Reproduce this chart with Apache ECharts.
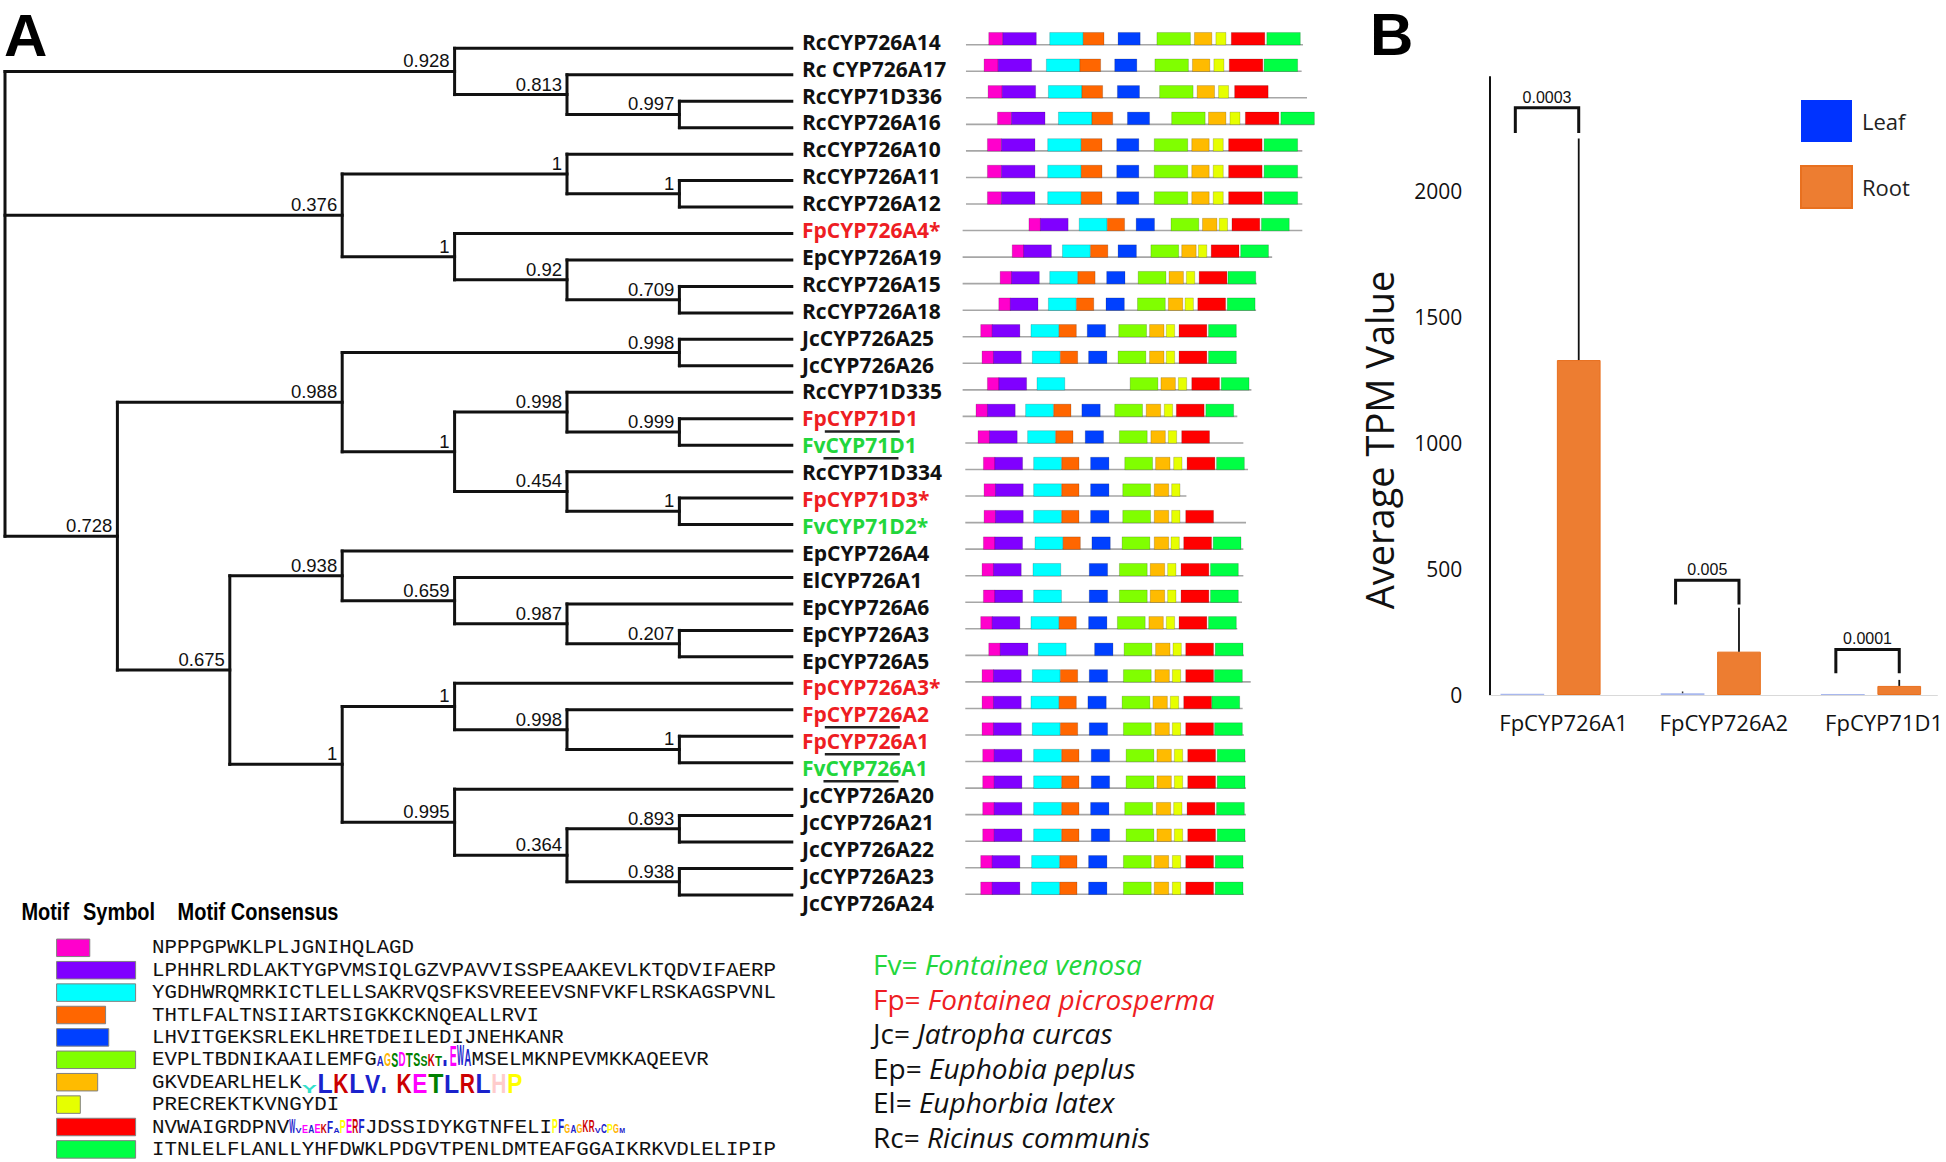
<!DOCTYPE html>
<html><head><meta charset="utf-8">
<script src="https://cdn.jsdelivr.net/npm/echarts@6/dist/echarts.min.js"></script>
<style>html,body{margin:0;padding:0;background:#fff}#c{width:1946px;height:1162px}</style>
</head><body><div id="c"></div>
<script>
// ================= DATA =================
const leafNames = ['RcCYP726A14','Rc CYP726A17','RcCYP71D336','RcCYP726A16','RcCYP726A10','RcCYP726A11','RcCYP726A12','FpCYP726A4*','EpCYP726A19','RcCYP726A15','RcCYP726A18','JcCYP726A25','JcCYP726A26','RcCYP71D335','FpCYP71D1','FvCYP71D1','RcCYP71D334','FpCYP71D3*','FvCYP71D2*','EpCYP726A4','ElCYP726A1','EpCYP726A6','EpCYP726A3','EpCYP726A5','FpCYP726A3*','FpCYP726A2','FpCYP726A1','FvCYP726A1','JcCYP726A20','JcCYP726A21','JcCYP726A22','JcCYP726A23','JcCYP726A24'];
const underlinedLeaves = [14, 15, 25, 26, 27];
// tree topology: arrays = internal node [children..., support]; numbers = leaf index
const treeTopology = [
  [0, [1, [2, 3, '0.997'], '0.813'], '0.928'],
  [[4, [5, 6, '1'], '1'], [7, [8, [9, 10, '0.709'], '0.92'], '1'], '0.376'],
  [[[11, 12, '0.998'], [[13, [14, 15, '0.999'], '0.998'], [16, [17, 18, '1'], '0.454'], '1'], '0.988'],
   [[19, [20, [21, [22, 23, '0.207'], '0.987'], '0.659'], '0.938'],
    [[24, [25, [26, 27, '1'], '0.998'], '1'], [28, [[29, 30, '0.893'], [31, 32, '0.938'], '0.364'], '0.995'], '1'], '0.675'], '0.728'],
  ''
];
const motifColors = ['#ff00cc','#8000ff','#00ffff','#ff6600','#0040ff','#80ff00','#ffbb00','#e6ff00','#ff0000','#00ff44'];
const motifLengths = [21, 50, 50, 31, 33, 50, 26, 15, 50, 50];
const rowScale = [1,1,1,1,1,1,1,0.83,0.83,0.83,0.83,0.83,0.83,0.83,0.83,0.83,0.83,0.83,0.83,0.83,0.83,0.83,0.83,0.83,0.83,0.83,0.83,0.83,0.83,0.83,0.83,0.83,0.83];
const rowSpan = [[11,514],[11,512],[11,520],[11,531],[11,513],[11,513],[11,513],[6,513],[6,468],[6,445],[6,444],[6,415],[6,415],[6,437],[6,416],[10,425],[10,432],[10,340],[10,429],[10,425],[10,425],[10,423],[10,416],[10,426],[10,436],[10,424],[10,426],[10,429],[10,429],[10,429],[10,429],[10,426],[10,426]];
const rowMotifStart = [
  [45,66,136,186,238,296,352,384,407,460],
  [38,59,131,181,233,293,349,381,404,456],
  [44,65,134,184,237,300,356,388,412,null],
  [58,79,149,199,252,318,373,405,428,481],
  [43,64,133,183,236,292,348,380,403,456],
  [43,64,133,183,236,292,348,380,403,456],
  [43,64,133,183,236,292,348,380,403,456],
  [105,122,180,222,265,317,364,389,408,452],
  [80,97,155,197,238,287,333,358,377,421],
  [62,79,136,178,221,268,314,340,359,402],
  [60,77,134,176,220,267,313,338,357,401],
  [33,50,108,150,192,239,285,310,329,373],
  [35,52,110,152,194,238,285,310,329,373],
  [43,60,117,null,null,256,302,328,348,392],
  [26,43,100,142,184,233,280,307,325,369],
  [29,46,103,145,189,240,287,313,333,null],
  [37,54,112,154,197,248,294,321,341,385],
  [38,55,112,154,197,245,292,318,null,null],
  [38,55,112,154,197,245,292,318,339,null],
  [37,54,114,156,199,244,292,317,336,380],
  [35,52,111,null,195,240,286,312,332,376],
  [37,54,112,null,195,240,286,312,332,376],
  [33,50,108,150,194,237,284,310,329,373],
  [45,62,119,null,203,247,294,320,339,383],
  [35,52,110,152,195,246,293,319,339,382],
  [35,52,108,150,193,244,290,316,336,378],
  [35,52,110,152,195,246,293,319,339,382],
  [36,53,112,154,198,250,296,322,342,386],
  [36,53,112,154,198,250,296,322,342,386],
  [36,53,112,154,197,248,295,321,341,385],
  [36,53,112,154,198,250,296,322,342,386],
  [33,50,109,151,194,246,292,319,339,383],
  [33,50,109,151,194,246,292,319,339,383]
];
const motifConsensus = [
  ['NPPPGPWKLPLJGNIHQLAGD'],
  ['LPHHRLRDLAKTYGPVMSIQLGZVPAVVISSPEAAKEVLKTQDVIFAERP'],
  ['YGDHWRQMRKICTLELLSAKRVQSFKSVREEEVSNFVKFLRSKAGSPVNL'],
  ['THTLFALTNSIIARTSIGKKCKNQEALLRVI'],
  ['LHVITGEKSRLEKLHRETDEILEDIJNEHKANR'],
  ['EVPLTBDNIKAAILEMFG', {logo:'AGSDTSSKTIEWA', bits:[.5,.65,.7,.72,.68,.62,.48,.55,.48,.3,1,1,.8], style:0}, 'MSELMKNPEVMKKAQEEVR'],
  ['GKVDEARLHELK', {logo:'YLKLVIKETLRLHP', bits:[.4,1,1,1,.92,.35,1,1,1,.9,1,1,1,1], style:1}],
  ['PRECREKTKVNGYDI'],
  ['NVWAIGRDPNV', {logo:'WVEAEKFAPERF', bits:[1,.35,.5,.55,.6,.65,.75,.3,.9,.95,.95,.95], style:2}, 'JDSSIDYKGTNFELI', {logo:'PFGAGKRVCPGM', bits:[.95,.95,.6,.5,.6,.75,.75,.3,.65,.6,.6,.3], style:3}],
  ['ITNLELFLANLLYHFDWKLPDGVTPENLDMTEAFGGAIKRKVDLELIPIP']
];
const speciesAbbr = ['Fv=','Fp=','Jc=','Ep=','El=','Rc='];
const speciesName = ['Fontainea venosa','Fontainea picrosperma','Jatropha curcas','Euphobia peplus','Euphorbia latex','Ricinus communis'];
const speciesColor = ['#22d63c','#ee1d23','#111','#111','#111','#111'];

const tpmCategories = ['FpCYP726A1','FpCYP726A2','FpCYP71D1'];
const tpmLeaf = [5, 7, 4];
const tpmRoot = [1329, 172, 36];
const tpmLeafErrTop = [null, 14, null];
const tpmRootErrTop = [2208, 346, 60];
const pValues = ['0.0003', '0.005', '0.0001'];
const bracketTop = [2330, 455, 181];
const bracketLegBottom = [2230, 359, 86];

// ================= HELPERS =================
const RED = '#ee1d23', GREEN = '#22d63c', INK = '#111';
const mctx = document.createElement('canvas').getContext('2d');
function measure(txt, font) { mctx.font = font; return mctx.measureText(txt).width; }
function leafColor(n) { return n.startsWith('Fp') ? RED : n.startsWith('Fv') ? GREEN : INK; }
function logoColor(ch) {
  if ('ACFILVWM'.includes(ch)) return '#1a22cc';
  if ('KR'.includes(ch)) return '#cc0000';
  if ('DE'.includes(ch)) return '#ff00ff';
  if ('NQST'.includes(ch)) return '#008000';
  if (ch === 'G') return '#ffb300';
  if (ch === 'H') return '#ffcccc';
  if (ch === 'P') return '#ffff00';
  if (ch === 'Y') return '#33e0cc';
  return '#333';
}
const logoStyles = [{cell:7.3, maxH:21, base:6.5},{cell:15.8, maxH:20, base:11},{cell:6.3, maxH:15, base:6},{cell:6.1, maxH:15, base:6}];

// tree layout
const treeSegs = [], treeSupports = [];
function layoutTree(node) {
  if (typeof node === 'number') return {x: 7, y: node, h: 0, support: null};
  const kids = node.slice(0, -1).map(layoutTree);
  const h = 1 + Math.max(...kids.map(k => k.h));
  const x = 7 - h;
  const y = (kids[0].y + kids[kids.length - 1].y) / 2;
  treeSegs.push([x, kids[0].y, x, kids[kids.length - 1].y]);
  kids.forEach(k => { treeSegs.push([x, k.y, k.x, k.y]); if (k.support) treeSupports.push([k.x, k.y, k.support]); });
  return {x, y, h, support: node[node.length - 1]};
}
layoutTree(treeTopology);

const motifBoxes = [];
rowMotifStart.forEach((starts, r) => starts.forEach((s, m) => {
  if (s != null) motifBoxes.push([r, s, s + motifLengths[m] * rowScale[r], m]);
}));
const rowLines = rowSpan.map((s, r) => [r, s[0], s[1]]);

// ================= CHART =================
const chart = echarts.init(document.getElementById('c'), null, {renderer: 'svg', width: 1946, height: 1162});
const hidden = {show: false};
const BW = 43.7, BGAP = 12.7, HALF = (BW + BGAP) / 2;

const option = {
  animation: false,
  backgroundColor: '#fff',
  grid: [
    {left: 5, top: 48.3, width: 786.8, height: 846.7},     // 0 tree
    {left: 802, top: 41.7, width: 150, height: 861},       // 1 leaf labels
    {left: 958.6, top: 38.7, width: 402, height: 849.6},   // 2 motifs
    {left: 56.6, top: 947.8, width: 158, height: 201.6},   // 3 motif legend
    {left: 1489.3, top: 77, width: 456.7, height: 618}     // 4 TPM bars
  ],
  xAxis: [
    {gridIndex: 0, type: 'value', min: 0, max: 7, ...hidden},
    {gridIndex: 1, type: 'value', min: 0, max: 1, ...hidden},
    {gridIndex: 2, type: 'value', min: 0, max: 600, ...hidden},
    {gridIndex: 3, type: 'value', min: 0, max: 100, ...hidden},
    {gridIndex: 4, type: 'value', min: -0.382, max: 2.414,
      axisLine: {show: true, onZero: false, lineStyle: {color: '#d9d9d9', width: 1}},
      axisTick: {show: false}, splitLine: {show: false},
      axisLabel: {customValues: [0, 1, 2], formatter: v => (Number.isInteger(v) && tpmCategories[v]) ? tpmCategories[v] : '',
        fontFamily: 'Open Sans', fontSize: 22, color: INK, margin: 16, padding: [0, 0, 0, 26]}}
  ],
  yAxis: [
    {gridIndex: 0, type: 'value', min: 0, max: 32, inverse: true, ...hidden},
    {gridIndex: 1, type: 'value', min: 0, max: 32, inverse: true, ...hidden},
    {gridIndex: 2, type: 'value', min: 0, max: 32, inverse: true, ...hidden},
    {gridIndex: 3, type: 'value', min: 0, max: 9, inverse: true, ...hidden},
    {gridIndex: 4, type: 'value', min: 0, max: 2452, interval: 500,
      axisLine: {show: true, onZero: false, lineStyle: {color: '#111', width: 2}},
      axisTick: {show: false}, splitLine: {show: false},
      axisLabel: {fontFamily: 'Open Sans', fontSize: 21, color: INK, margin: 27, showMaxLabel: false, formatter: v => String(v)}}
  ],
  legend: {
    data: ['Leaf', 'Root'], orient: 'vertical', left: 1795, top: 95,
    itemWidth: 51, itemHeight: 42, itemGap: 23, icon: 'rect',
    textStyle: {fontFamily: 'Open Sans', fontSize: 22, color: '#222', padding: [0, 0, 0, 5]}
  },
  graphic: [
    {type: 'text', x: 4, y: 35, style: {text: 'A', font: 'bold 60px "Liberation Sans"', fill: '#000', verticalAlign: 'middle'}},
    {type: 'text', x: 1370, y: 34.5, style: {text: 'B', font: 'bold 60px "Liberation Sans"', fill: '#000', verticalAlign: 'middle'}},
    {type: 'text', x: 1378.7, y: 440, rotation: Math.PI / 2, style: {text: 'Average TPM Value', font: '38px "Open Sans"', fill: INK, align: 'center', verticalAlign: 'middle'}},
    {type: 'text', x: 21.4, y: 911.7, scaleX: 0.85, style: {text: 'Motif', font: 'bold 23.5px "Liberation Sans"', fill: '#000', verticalAlign: 'middle'}},
    {type: 'text', x: 83, y: 911.7, scaleX: 0.85, style: {text: 'Symbol', font: 'bold 23.5px "Liberation Sans"', fill: '#000', verticalAlign: 'middle'}},
    {type: 'text', x: 177.6, y: 911.7, scaleX: 0.85, style: {text: 'Motif Consensus', font: 'bold 23.5px "Liberation Sans"', fill: '#000', verticalAlign: 'middle'}},
    ...speciesAbbr.map((a, i) => ({type: 'text', x: 873, y: 964 + i * 34.6, style: {
      text: '{a|' + a + ' }{b|' + speciesName[i] + '}', verticalAlign: 'middle',
      rich: {a: {fontFamily: 'Open Sans', fontSize: 28, fill: speciesColor[i], color: speciesColor[i]},
             b: {fontFamily: 'Open Sans', fontStyle: 'italic', fontSize: 28, fill: speciesColor[i], color: speciesColor[i]}}}}))
  ],
  series: [
    // tree branches
    {type: 'custom', xAxisIndex: 0, yAxisIndex: 0, data: treeSegs, silent: true,
      renderItem: (params, api) => {
        const s = treeSegs[params.dataIndex];
        const a = api.coord([s[0], s[1]]), b = api.coord([s[2], s[3]]);
        return {type: 'line', shape: {x1: a[0], y1: a[1], x2: b[0], y2: b[1]}, style: {stroke: INK, lineWidth: 3, lineCap: 'square'}};
      }},
    // support values
    {type: 'custom', xAxisIndex: 0, yAxisIndex: 0, data: treeSupports.map(s => [s[0], s[1]]), silent: true,
      renderItem: (params, api) => {
        const s = treeSupports[params.dataIndex];
        const p = api.coord([s[0], s[1]]);
        return {type: 'text', x: p[0] - 5, y: p[1] - 1, style: {text: s[2], fontFamily: 'Liberation Sans', fontSize: 18.5, fill: INK, align: 'right', verticalAlign: 'bottom'}};
      }},
    // leaf labels
    {type: 'custom', xAxisIndex: 1, yAxisIndex: 1, data: leafNames.map((n, i) => [0, i]), silent: true,
      renderItem: (params, api) => {
        const i = params.dataIndex, name = leafNames[i];
        const p = api.coord([0, i]);
        const font = 'bold 21px "Open Sans"';
        const kids = [{type: 'text', x: p[0], y: p[1], style: {text: name, fontFamily: 'Open Sans', fontWeight: 'bold', fontSize: 21, fill: leafColor(name), align: 'left', verticalAlign: 'middle'}}];
        if (underlinedLeaves.includes(i)) {
          const x0 = p[0] + measure(name.slice(0, 2), font) - 2;
          kids.push({type: 'line', shape: {x1: x0, y1: p[1] + 13, x2: x0 + 75, y2: p[1] + 13}, style: {stroke: '#222', lineWidth: 2.5}});
        }
        return {type: 'group', children: kids};
      }},
    // motif baselines
    {type: 'custom', xAxisIndex: 2, yAxisIndex: 2, data: rowLines, encode: {x: 1, y: 0}, silent: true,
      renderItem: (params, api) => {
        const r = rowLines[params.dataIndex];
        const a = api.coord([r[1], r[0]]), b = api.coord([r[2], r[0]]);
        return {type: 'line', shape: {x1: a[0], y1: a[1] + 6, x2: b[0], y2: b[1] + 6}, style: {stroke: '#a6a6a6', lineWidth: 1.6}};
      }},
    // motif boxes
    {type: 'custom', xAxisIndex: 2, yAxisIndex: 2, data: motifBoxes, encode: {x: 1, y: 0}, silent: true,
      renderItem: (params, api) => {
        const d = motifBoxes[params.dataIndex];
        const a = api.coord([d[1], d[0]]), b = api.coord([d[2], d[0]]);
        return {type: 'rect', shape: {x: a[0], y: a[1] - 6.25, width: b[0] - a[0], height: 12.5},
          style: {fill: motifColors[d[3]], stroke: 'rgba(0,0,0,0.22)', lineWidth: 0.8}};
      }},
    // motif legend (symbol + consensus)
    {type: 'custom', xAxisIndex: 3, yAxisIndex: 3, data: motifLengths.map((l, k) => [l, k]), silent: true,
      renderItem: (params, api) => {
        const k = params.dataIndex;
        const p0 = api.coord([0, k]), p1 = api.coord([motifLengths[k], k]);
        const kids = [{type: 'rect', shape: {x: p0[0], y: p0[1] - 8.75, width: p1[0] - p0[0], height: 17.5},
          style: {fill: motifColors[k], stroke: '#808080', lineWidth: 1}}];
        let x = p0[0] + 95.4;
        motifConsensus[k].forEach(seg => {
          if (typeof seg === 'string') {
            kids.push({type: 'text', x: x, y: p0[1], style: {text: seg, fontFamily: 'Liberation Mono', fontSize: 20.8, fill: '#111', align: 'left', verticalAlign: 'middle'}});
            x += measure(seg, '20.8px "Liberation Mono"');
          } else {
            const st = logoStyles[seg.style];
            seg.logo.split('').forEach((ch, j) => {
              const capH = seg.bits[j] * st.maxH;
              const fs = capH / 0.716;
              const w = measure(ch, 'bold ' + fs + 'px "Liberation Sans"');
              const sx = Math.min((st.cell * 0.96) / w, 2.2);
              kids.push({type: 'text', x: x + j * st.cell, y: p0[1] + st.base - capH / 2, scaleX: sx,
                style: {text: ch, fontFamily: 'Liberation Sans', fontWeight: 'bold', fontSize: fs, fill: logoColor(ch), align: 'left', verticalAlign: 'middle'}});
            });
            x += seg.logo.length * st.cell;
          }
        });
        return {type: 'group', children: kids};
      }},
    // TPM bars
    {name: 'Leaf', type: 'bar', xAxisIndex: 4, yAxisIndex: 4, barWidth: BW, barGap: (BGAP / BW * 100).toFixed(1) + '%',
      itemStyle: {color: '#0033ff'},
      data: tpmLeaf.map((v, i) => ({value: [i, v], itemStyle: {color: '#a9b8ee'}}))},
    {name: 'Root', type: 'bar', xAxisIndex: 4, yAxisIndex: 4, barWidth: BW,
      itemStyle: {color: '#ed7d31', borderColor: '#e8701f', borderWidth: 1},
      data: tpmRoot.map((v, i) => [i, v])},
    // error bars + significance brackets
    {type: 'custom', xAxisIndex: 4, yAxisIndex: 4, data: tpmCategories.map((c, i) => [i, tpmRoot[i]]), silent: true, z: 5,
      renderItem: (params, api) => {
        const i = params.dataIndex;
        const cx = api.coord([i, 0])[0];
        const leafX = cx - HALF, rootX = cx + HALF;
        const Y = v => api.coord([i, v])[1];
        const kids = [];
        kids.push({type: 'line', shape: {x1: rootX, y1: Y(tpmRoot[i]), x2: rootX, y2: Y(tpmRootErrTop[i])}, style: {stroke: '#111', lineWidth: 1.8}});
        if (tpmLeafErrTop[i] != null) kids.push({type: 'line', shape: {x1: leafX, y1: Y(tpmLeaf[i]), x2: leafX, y2: Y(tpmLeafErrTop[i])}, style: {stroke: '#333', lineWidth: 1.5}});
        const lx = leafX - 7, rx = rootX, yt = Y(bracketTop[i]), yb = Y(bracketLegBottom[i]);
        kids.push({type: 'polyline', shape: {points: [[lx, yb], [lx, yt], [rx, yt], [rx, yb]]}, style: {stroke: '#111', lineWidth: 3, fill: null, lineJoin: 'miter'}});
        kids.push({type: 'text', x: (lx + rx) / 2, y: yt - 10.5, style: {text: pValues[i], fontFamily: 'Liberation Sans', fontSize: 16, fill: '#111', align: 'center', verticalAlign: 'middle'}});
        return {type: 'group', children: kids};
      }}
  ]
};
chart.setOption(option);
</script>
</body></html>
